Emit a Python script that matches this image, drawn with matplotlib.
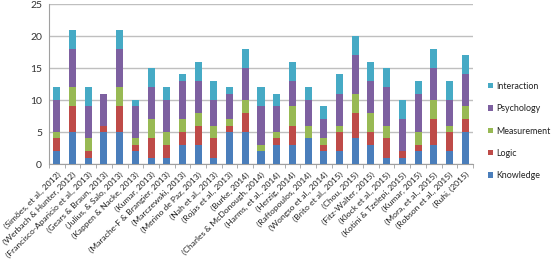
import matplotlib
matplotlib.use("Agg")
import matplotlib.pyplot as plt
import numpy as np

plt.rcParams['font.family'] = ['Lato', 'DejaVu Sans']

labels = ["(Simões, et al., 2012)", "(Werbach & Hunter, 2012)", "(Francisco-Aparicio et al., 2013)",
          "(Gears & Braun, 2013)", "(Julius, & Salo, 2013)", "(Kappen & Nacke, 2013)", "(Kumar, 2013)",
          "(Marache-F & Brangier, 2013)", "(Marczewski, 2013)", "(Merino de Paz, 2013)", "(Nah et al., 2013)",
          "(Rojas et al., 2013)", "(Burke, 2014)", "(Charles & McDonough, 2014)", "(Harms, et al., 2014)",
          "(Herzig, 2014)", "(Raftopoulos, 2014)", "(Wongso et al., 2014)", "(Brito et al., 2015)",
          "(Chou, 2015)", "(Fitz-Walter, 2015)", "(Klock et al., 2015)", "(Kotini & Tzelepi, 2015)",
          "(Kumar, 2015)", "(Mora, et al., 2015)", "(Robson et al., 2015)", "(Ruhi, (2015)"]

knowledge   = [2, 5, 1, 5, 5, 2, 1, 1, 3, 3, 1, 5, 5, 2, 3, 3, 4, 2, 2, 4, 3, 1, 1, 2, 3, 2, 5]
logic       = [2, 4, 1, 1, 4, 1, 3, 2, 2, 3, 3, 1, 3, 0, 1, 3, 0, 1, 3, 4, 2, 3, 1, 1, 4, 3, 2]
measurement = [1, 3, 2, 0, 3, 1, 3, 2, 2, 2, 2, 1, 2, 1, 1, 3, 2, 1, 1, 3, 3, 2, 0, 2, 3, 1, 2]
psychology  = [5, 6, 5, 5, 6, 5, 5, 5, 6, 5, 4, 4, 5, 6, 4, 4, 4, 3, 5, 6, 5, 6, 5, 6, 5, 4, 5]
interaction = [2, 3, 3, 0, 3, 1, 3, 2, 1, 3, 3, 1, 3, 3, 2, 3, 2, 2, 3, 3, 3, 3, 3, 2, 3, 3, 3]

series = [("Knowledge", knowledge, "#4A7EBB"),
          ("Logic", logic, "#BE4B48"),
          ("Measurement", measurement, "#98B954"),
          ("Psychology", psychology, "#7D60A0"),
          ("Interaction", interaction, "#46AAC5")]

fig = plt.figure(figsize=(5.53, 2.64), dpi=100)
ax = fig.add_axes([49/553, 1 - 164/264, (473 - 49)/553, 160/264])

x = np.arange(len(labels))
bottom = np.zeros(len(labels))
handles = []
for name, vals, col in series:
    v = np.array(vals, dtype=float)
    b = ax.bar(x, v, 0.45, bottom=bottom, color=col, label=name, zorder=3)
    handles.append(b)
    bottom += v

ax.set_xlim(-0.5, len(labels) - 0.5)
ax.set_ylim(0, 25)
ax.set_yticks(range(0, 26, 5))
ax.yaxis.grid(True, color="#BFBFBF", linewidth=1, zorder=0)
ax.tick_params(axis='y', length=0, labelsize=7.5, pad=5, colors="#333333")
ax.set_xticks(x)
ax.set_xticklabels(labels, rotation=45, ha='right', rotation_mode='anchor', fontsize=6.1,
                   color="#222222")
ax.tick_params(axis='x', length=0, pad=5)
ax.set_xticks(np.arange(-0.5, len(labels), 1), minor=True)
ax.tick_params(axis='x', which='minor', length=3, color="#A0A0A0")
for s in ['top', 'right']:
    ax.spines[s].set_visible(False)
ax.spines['left'].set_color("#A0A0A0")
ax.spines['bottom'].set_color("#A0A0A0")

leg = fig.legend(handles[::-1], [s[0] for s in series][::-1], loc='center left',
                 bbox_to_anchor=(488/553, 1 - 131/264), frameon=False, fontsize=6.4,
                 handlelength=0.55, handleheight=0.55, labelspacing=1.5, handletextpad=0.4,
                 borderpad=0, borderaxespad=0)
for t in leg.get_texts():
    t.set_color("#222222")

fig.savefig("out.png", dpi=100)
